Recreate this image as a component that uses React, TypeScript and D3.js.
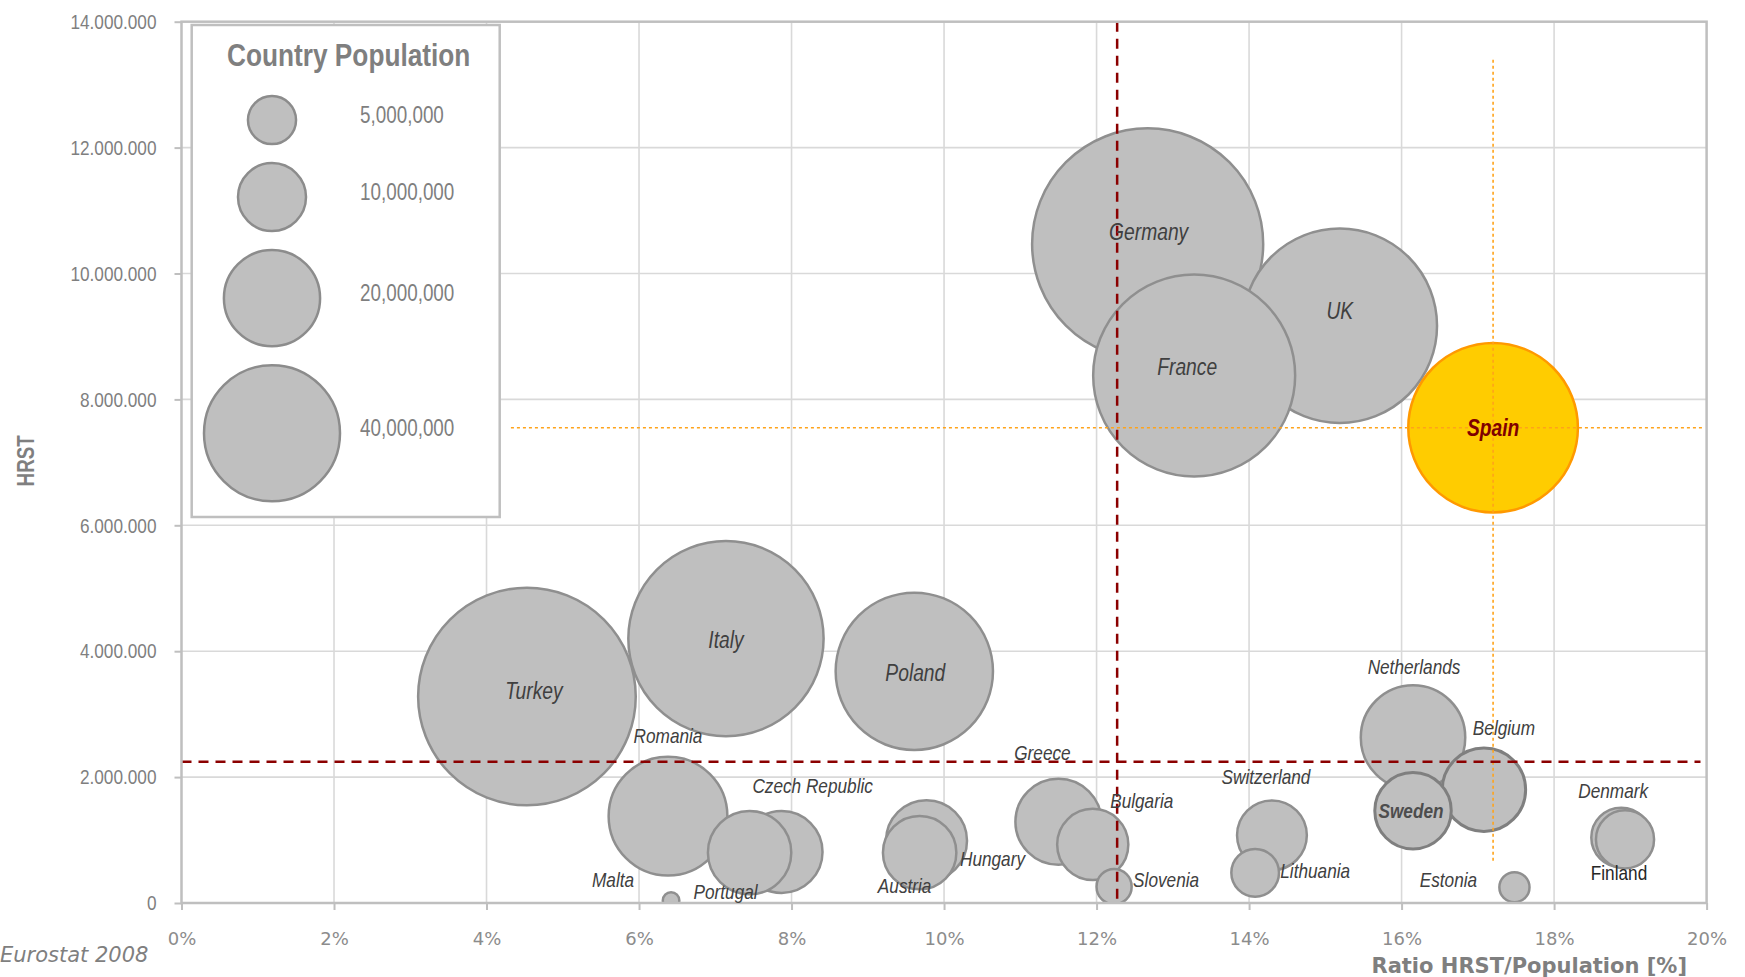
import {
  axisBottom,
  axisLeft,
  formatLocale,
  ScaleLinear,
  scaleLinear,
  scaleSqrt,
  select,
} from "d3";
import { ReactNode, SVGProps, useEffect, useRef } from "react";

// Eurostat 2008, HRST vs ratio HRST / population, bubble = population
const countries = [
  "Germany", "Turkey", "UK", "France", "Italy", "Spain", "Poland", "Romania",
  "Netherlands", "Belgium", "Sweden", "Greece", "Bulgaria", "Czech Republic",
  "Portugal", "Hungary", "Austria", "Switzerland", "Lithuania", "Denmark",
  "Finland", "Slovenia", "Estonia", "Malta",
];
const ratioPct = [
  12.67, 4.53, 15.19, 13.28, 7.14, 17.2, 9.61, 6.38, 16.15, 17.08, 16.15, 11.5,
  11.95, 7.87, 7.45, 9.77, 9.68, 14.3, 14.08, 18.88, 18.93, 12.23, 17.48, 6.42,
];
const hrst = [
  10470000, 3280000, 9170000, 8380000, 4200000, 7550000, 3680000, 1380000,
  2630000, 1800000, 1465000, 1290000, 930000, 810000, 800000, 990000, 800000,
  1075000, 480000, 1040000, 1010000, 260000, 250000, 40000,
];
const population = [
  82200000, 72900000, 58200000, 62800000, 58700000, 44300000, 38100000,
  21700000, 16800000, 10700000, 9000000, 11400000, 7800000, 10300000,
  10700000, 10100000, 8300000, 7500000, 3500000, 5500000, 5200000, 1900000,
  1400000, 420000,
];
const legendPopulations = [5000000, 10000000, 20000000, 40000000];
const xTicks = [0, 2, 4, 6, 8, 10, 12, 14, 16, 18, 20];
const yTicks = [0, 2000000, 4000000, 6000000, 8000000, 10000000, 12000000, 14000000];
const averageRatio = 12.27;
const averageHrst = 2245000;
const spainRatioSpan = [4.32, 19.95];
const spainHrstSpan = [670000, 13410000];

// label offsets from bubble centre, px
const labelShift: Record<string, [number, number]> = {
  Germany: [1, -12],
  Turkey: [7, -5],
  UK: [0, -14],
  France: [-7, -8],
  Italy: [0, 2],
  Spain: [0, 1],
  Poland: [1, 2],
  Romania: [0, -80],
  Netherlands: [1, -71],
  Belgium: [20, -62],
  Sweden: [-2, 0],
  Greece: [-16, -69],
  Bulgaria: [49, -44],
  "Czech Republic": [31, -66],
  Portugal: [-24, 39],
  Hungary: [66, 18],
  Austria: [-15, 33],
  Switzerland: [-6, -58],
  Lithuania: [60, -2],
  Denmark: [-8, -47],
  Finland: [-6, 33],
  Slovenia: [52, -7],
  Estonia: [-66, -7],
  Malta: [-58, -21],
};
// labels written inside the big bubbles are a bit larger
const bigLabels = ["Germany", "UK", "France", "Spain", "Turkey", "Italy", "Poland"];

// no Arial Narrow offline: Liberation Sans squeezed horizontally
const NARROW = "'Liberation Sans', Arial, sans-serif";
const SQUEEZE = 0.82;
const WIDE = "'DejaVu Sans', Verdana, sans-serif";
const AXIS_GREY = "#7f7f7f";

const dotted = formatLocale({
  decimal: ",",
  thousands: ".",
  grouping: [3],
  currency: ["", ""],
}).format(",");
const commas = formatLocale({
  decimal: ".",
  thousands: ",",
  grouping: [3],
  currency: ["", ""],
}).format(",");

const W = 1745;
const H = 977;
const plot = { left: 181.5, top: 21.7, right: 1706.6, bottom: 903 };

interface Scales {
  x: ScaleLinear<number, number>;
  y: ScaleLinear<number, number>;
}

type NTextProps = SVGProps<SVGTextElement> & { at: [number, number]; children: ReactNode };

function NText({ at, children, ...rest }: NTextProps) {
  return (
    <text
      transform={`translate(${at[0]},${at[1]}) scale(${SQUEEZE},1)`}
      fontFamily={NARROW}
      dominantBaseline="central"
      {...rest}
    >
      {children}
    </text>
  );
}

function AxisLeft({ y }: { y: Scales["y"] }) {
  const ref = useRef<SVGGElement>(null);
  useEffect(() => {
    if (!ref.current) return;
    const g = select(ref.current);
    g.call(
      axisLeft(y)
        .tickValues(yTicks)
        .tickSize(7)
        .tickPadding(18)
        .tickFormat((d) => dotted(d as number))
    );
    g.select(".domain").remove();
    g.selectAll(".tick line").attr("stroke", "#bfbfbf").attr("stroke-width", 2);
    g.selectAll(".tick text")
      .attr("x", -25 / SQUEEZE)
      .attr("transform", `scale(${SQUEEZE},1)`)
      .attr("fill", AXIS_GREY)
      .attr("font-family", NARROW)
      .attr("font-size", 21);
  }, [y]);
  return <g ref={ref} transform={`translate(${plot.left},0)`} />;
}

function AxisBottom({ x }: { x: Scales["x"] }) {
  const ref = useRef<SVGGElement>(null);
  useEffect(() => {
    if (!ref.current) return;
    const g = select(ref.current);
    g.call(
      axisBottom(x)
        .tickValues(xTicks)
        .tickSize(7)
        .tickPadding(22)
        .tickFormat((d) => `${d}%`)
    );
    g.select(".domain").remove();
    g.selectAll(".tick line").attr("stroke", "#bfbfbf").attr("stroke-width", 2);
    g.selectAll(".tick text")
      .attr("fill", "#8c8c8c")
      .attr("font-family", WIDE)
      .attr("font-size", 18);
  }, [x]);
  return <g ref={ref} transform={`translate(0,${plot.bottom})`} />;
}

function Grid({ x, y }: Scales) {
  return (
    <g stroke="#d9d9d9" strokeWidth={1.6}>
      {xTicks.slice(1, -1).map((t) => (
        <line key={`gx-${t}`} x1={x(t)} x2={x(t)} y1={plot.top} y2={plot.bottom} />
      ))}
      {yTicks.slice(1, -1).map((t) => (
        <line key={`gy-${t}`} x1={plot.left} x2={plot.right} y1={y(t)} y2={y(t)} />
      ))}
    </g>
  );
}

function Legend() {
  const r = scaleSqrt().domain([0, 40000000]).range([0, 68]);
  const cx = 272;
  let cursor = 96;
  const items = legendPopulations.map((p) => {
    const rad = r(p);
    const cy = cursor + rad;
    cursor = cy + rad + 19;
    return { p, rad, cy };
  });
  return (
    <g>
      <rect x={191.7} y={25} width={308} height={492} fill="#fff" stroke="#bfbfbf" strokeWidth={2.5} />
      <NText at={[348.7, 55]} textAnchor="middle" fontWeight="bold" fontSize={32} fill={AXIS_GREY}>
        Country Population
      </NText>
      {items.map(({ p, rad, cy }) => (
        <g key={`leg-${p}`}>
          <circle cx={cx} cy={cy} r={rad} fill="#bfbfbf" stroke="#8c8c8c" strokeWidth={2.5} />
          <NText at={[360, cy - 5]} fontSize={23} fill={AXIS_GREY}>
            {commas(p)}
          </NText>
        </g>
      ))}
    </g>
  );
}

export default function App() {
  const x = scaleLinear().domain([0, 20]).range([plot.left, plot.right]);
  const y = scaleLinear().domain([0, 14000000]).range([plot.bottom, plot.top]);
  const radius = scaleSqrt().domain([0, 40000000]).range([0, 80.6]);

  const bubbles = countries.map((name, i) => ({
    name,
    cx: x(ratioPct[i]),
    cy: y(hrst[i]),
    r: radius(population[i]),
  }));

  const spain = bubbles.find((b) => b.name === "Spain")!;

  return (
    <svg
      width={W}
      height={H}
      style={{ position: "absolute", left: 0, top: 0, background: "#fff" }}
    >
      <defs>
        <clipPath id="plot-clip">
          <rect x={plot.left} y={plot.top} width={plot.right - plot.left} height={plot.bottom - plot.top} />
        </clipPath>
      </defs>

      <Grid x={x} y={y} />
      <Legend />

      <g clipPath="url(#plot-clip)">
        {bubbles.map((b) => {
          const isSpain = b.name === "Spain";
          const dark = b.name === "Sweden" || b.name === "Belgium";
          return (
            <circle
              key={`b-${b.name}`}
              cx={b.cx}
              cy={b.cy}
              r={b.r}
              fill={isSpain ? "#ffcc00" : "#bfbfbf"}
              stroke={isSpain ? "#ff9900" : dark ? "#7f7f7f" : "#8f8f8f"}
              strokeWidth={dark ? 3 : 2.5}
            />
          );
        })}
      </g>

      {/* Spain cross-hair */}
      <g stroke="#ffa31a" strokeWidth={1.6} strokeDasharray="3 3">
        <line x1={x(spainRatioSpan[0])} x2={x(spainRatioSpan[1])} y1={spain.cy} y2={spain.cy} />
        <line x1={spain.cx} x2={spain.cx} y1={y(spainHrstSpan[0])} y2={y(spainHrstSpan[1])} />
      </g>

      {/* averages */}
      <g stroke="#8b0000" strokeWidth={2.5} strokeDasharray="10 7">
        <line x1={x(averageRatio)} x2={x(averageRatio)} y1={plot.top} y2={plot.bottom} />
        <line x1={plot.left} x2={x(19.92)} y1={y(averageHrst)} y2={y(averageHrst)} />
      </g>

      <rect
        x={plot.left}
        y={plot.top}
        width={plot.right - plot.left}
        height={plot.bottom - plot.top}
        fill="none"
        stroke="#bfbfbf"
        strokeWidth={2.5}
      />
      <AxisLeft y={y} />
      <AxisBottom x={x} />

      {bubbles.map((b) => {
        const [dx, dy] = labelShift[b.name] ?? [0, 0];
        const isSpain = b.name === "Spain";
        const bold = isSpain || b.name === "Sweden";
        const upright = b.name === "Finland";
        return (
          <NText
            key={`l-${b.name}`}
            at={[b.cx + dx, b.cy + dy]}
            textAnchor="middle"
            fontSize={bigLabels.includes(b.name) ? 23.5 : 21}
            fontStyle={upright ? "normal" : "italic"}
            fontWeight={bold ? "bold" : "normal"}
            fill={isSpain ? "#7f0000" : upright ? "#262626" : bold ? "#4d4d4d" : "#404040"}
          >
            {b.name}
          </NText>
        );
      })}

      <text
        transform={`translate(25.8,460.8) rotate(-90) scale(${SQUEEZE},1)`}
        textAnchor="middle"
        dominantBaseline="central"
        fontFamily={NARROW}
        fontWeight="bold"
        fontSize={23}
        fill={AXIS_GREY}
      >
        HRST
      </text>
      <text
        x={1687}
        y={966}
        textAnchor="end"
        dominantBaseline="central"
        fontFamily={WIDE}
        fontWeight="bold"
        fontSize={21}
        fill={AXIS_GREY}
      >
        Ratio HRST/Population [%]
      </text>
      <text
        x={0}
        y={955}
        dominantBaseline="central"
        fontFamily={WIDE}
        fontStyle="italic"
        fontSize={21}
        fill={AXIS_GREY}
      >
        Eurostat 2008
      </text>
    </svg>
  );
}
